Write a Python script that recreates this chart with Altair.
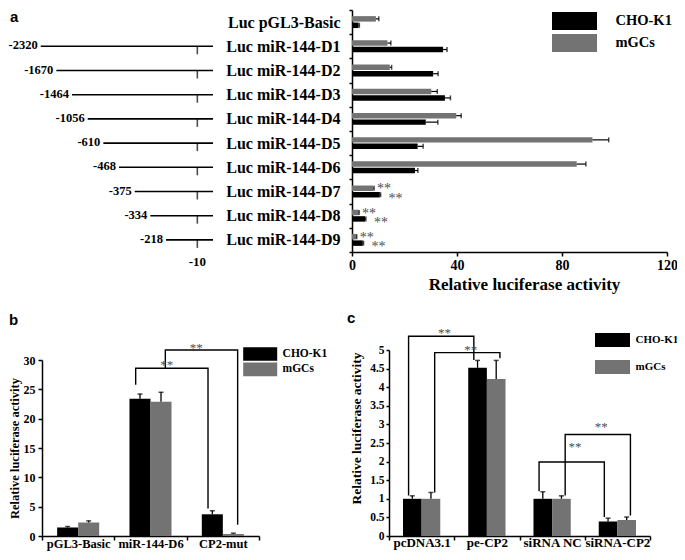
import altair as alt
import pandas as pd

SERIF = "Liberation Serif"
SANS = "Liberation Sans"
SERIES = ["CHO-K1", "mGCs"]
SERIES_COLORS = ["#000000", "#737373"]
STAR_COLOR = "#4d4d4d"
RECT = "M-2.5,-1H2.5V1H-2.5Z"

# ---------------- panel a : deletion constructs ----------------
a_constructs = ["pGL3-Basic", "miR-144-D1", "miR-144-D2", "miR-144-D3", "miR-144-D4",
                "miR-144-D5", "miR-144-D6", "miR-144-D7", "miR-144-D8", "miR-144-D9"]
a_cho = [2.5, 34.7, 30.9, 35.4, 28.1, 25.0, 24.0, 10.6, 5.0, 4.1]
a_cho_err = [0.3, 1.5, 1.9, 2.1, 4.6, 2.1, 1.1, 0.3, 0.3, 0.3]
a_mgc = [9.1, 13.5, 14.4, 30.2, 39.7, 91.6, 85.6, 8.1, 2.5, 1.6]
a_mgc_err = [1.1, 1.3, 0.7, 2.3, 1.9, 6.2, 3.5, 0.3, 0.2, 0.2]
a_sig = ["", "", "", "", "", "", "", "**", "**", "**"]

# promoter fragment schematic (ordinal, not to scale)
diag_constructs = a_constructs[1:]
diag_starts = ["-2320", "-1670", "-1464", "-1056", "-610", "-468", "-375", "-334", "-218"]
diag_axis = diag_starts + ["", "-10", "Luc"]
diag_site = "-10"
diag_end = "Luc"

# ---------------- panel b : CP2 site mutation ----------------
b_groups = ["pGL3-Basic", "miR-144-D6", "CP2-mut"]
b_cho = [1.45, 23.4, 3.7]
b_cho_err = [0.17, 0.8, 0.6]
b_mgc = [2.3, 22.9, 0.34]
b_mgc_err = [0.28, 1.6, 0.15]
b_br_id = [1, 1, 1, 1, 2, 2, 2, 2]
b_br_step = [0, 1, 2, 3, 0, 1, 2, 3]
b_br_group = ["miR-144-D6", "miR-144-D6", "CP2-mut", "CP2-mut"] * 2
b_br_series = ["CHO-K1"] * 4 + ["mGCs"] * 4
b_br_value = [25.8, 28.6, 28.6, 4.7, 28.6, 31.7, 31.7, 1.9]
b_star_group = ["miR-144-D6", "miR-144-D6"]
b_star_series = ["CHO-K1", "mGCs"]
b_star_value = [29.7, 32.5]

# ---------------- panel c : CP2 over-expression / knock-down ----------------
c_groups = ["pcDNA3.1", "pe-CP2", "siRNA NC", "siRNA-CP2"]
c_cho = [1.0, 4.52, 1.0, 0.39]
c_cho_err = [0.08, 0.2, 0.19, 0.09]
c_mgc = [1.0, 4.22, 1.0, 0.43]
c_mgc_err = [0.17, 0.5, 0.08, 0.08]
c_br_id = [1] * 4 + [2] * 4 + [3] * 4 + [4] * 4
c_br_step = [0, 1, 2, 3] * 4
c_br_group = (["pcDNA3.1", "pcDNA3.1", "pe-CP2", "pe-CP2"] * 2
              + ["siRNA NC", "siRNA NC", "siRNA-CP2", "siRNA-CP2"] * 2)
c_br_series = ["CHO-K1"] * 4 + ["mGCs"] * 4 + ["CHO-K1"] * 4 + ["mGCs"] * 4
c_br_value = [1.09, 5.37, 5.37, 4.73,
              1.17, 4.93, 4.93, 4.78,
              1.2, 1.99, 1.99, 0.51,
              1.09, 2.73, 2.73, 0.55]
c_star_group = ["pcDNA3.1", "pcDNA3.1", "siRNA NC", "siRNA NC"]
c_star_series = ["CHO-K1", "mGCs", "CHO-K1", "mGCs"]
c_star_value = [5.53, 5.09, 2.46, 3.0]


def bar_table(groups, cho, cho_err, mgc, mgc_err, sig=None):
    rows = []
    for i, g in enumerate(groups):
        for s, v, e in (("CHO-K1", cho[i], cho_err[i]), ("mGCs", mgc[i], mgc_err[i])):
            rows.append({"group": g, "series": s, "value": v, "err": e, "end": v + e,
                         "sig": (sig[i] if sig else "")})
    return pd.DataFrame(rows)


a_df = bar_table(a_constructs, a_cho, a_cho_err, a_mgc, a_mgc_err, a_sig)
b_df = bar_table(b_groups, b_cho, b_cho_err, b_mgc, b_mgc_err)
c_df = bar_table(c_groups, c_cho, c_cho_err, c_mgc, c_mgc_err)
diag_df = pd.DataFrame({"group": diag_constructs, "start": diag_starts,
                        "end": [diag_end] * len(diag_starts), "site": [diag_site] * len(diag_starts)})
site_df = pd.DataFrame({"group": [a_constructs[-1]], "site": [diag_site]})
b_br = pd.DataFrame({"bracket": b_br_id, "step": b_br_step, "group": b_br_group,
                     "series": b_br_series, "value": b_br_value})
c_br = pd.DataFrame({"bracket": c_br_id, "step": c_br_step, "group": c_br_group,
                     "series": c_br_series, "value": c_br_value})
b_st = pd.DataFrame({"group": b_star_group, "series": b_star_series, "value": b_star_value,
                     "label": ["**"] * len(b_star_group)})
c_st = pd.DataFrame({"group": c_star_group, "series": c_star_series, "value": c_star_value,
                     "label": ["**"] * len(c_star_group)})

AX = dict(domainColor="black", domainWidth=1.5, tickColor="black", tickWidth=1.5,
          labelColor="black", labelFont=SERIF, labelFontWeight="bold", grid=False,
          titleFont=SERIF, titleFontWeight="bold", titleColor="black")


def color_enc(legend):
    return alt.Color("series:N", scale=alt.Scale(domain=SERIES, range=SERIES_COLORS), legend=legend)


def legend(x, y, w, h, fs, step, label_shift=0.0):
    # rectangle symbol w x h (path is 5:2), entries spaced `step` px apart
    return alt.Legend(title=None, orient="none", legendX=x, legendY=y, symbolType=RECT,
                      symbolSize=h * h, symbolOffset=(w - h) / 2, symbolStrokeWidth=0, symbolOpacity=1,
                      labelFont=SERIF, labelFontSize=fs, labelFontWeight="bold",
                      labelColor="black", labelOffset=w - h + 5 + label_shift, rowPadding=step - h,
                      padding=0)


# ---- panel a scales ----
def a_x(field, axis=None):
    return alt.X(f"{field}:Q", scale=alt.Scale(domain=[0, 120], range=[344, 659], nice=False, zero=False),
                 axis=axis)


def a_y(axis=None):
    return alt.Y("group:N", scale=alt.Scale(domain=a_constructs, range=[2, 244], paddingInner=0,
                                            paddingOuter=0), axis=axis)


def a_yoff():
    return alt.YOffset("series:N", scale=alt.Scale(domain=["mGCs", "CHO-K1"], paddingInner=0.15,
                                                   paddingOuter=0.95))


def d_x(field):
    return alt.X(f"{field}:N", scale=alt.Scale(type="point", domain=diag_axis, range=[32.7, 205],
                                               padding=0), axis=None)


a_x_axis = alt.Axis(orient="bottom", offset=-284, values=[0, 40, 80, 120], tickSize=4, labelFontSize=14,
                    labelPadding=2, labelFlush=False, title="Relative luciferase activity",
                    titleFontSize=17, titlePadding=4, titleX=516, **AX)
a_y_axis = alt.Axis(orient="left", offset=-344, title=None, tickBand="extent", tickSize=3,
                    labelFontSize=16, labelPadding=9,
                    labelExpr="datum.label ? 'Luc ' + datum.label : ''", **AX)

txt = dict(font=SERIF, fontWeight="bold", color="black")

panel_a = [
    alt.Chart(diag_df).mark_rule(color="black", strokeWidth=1.6).encode(
        x=d_x("start"), x2="end:N", y=a_y()),
    alt.Chart(diag_df).mark_tick(color="black", orient="vertical", size=8, thickness=1.6, yOffset=4).encode(
        x=d_x("site"), y=a_y()),
    alt.Chart(diag_df).mark_text(align="right", baseline="middle", dx=-3, dy=-1, fontSize=12.5, **txt).encode(
        x=d_x("start"), y=a_y(), text="start:N"),
    alt.Chart(site_df).mark_text(align="center", baseline="middle", dy=22, fontSize=13, **txt).encode(
        x=d_x("site"), y=a_y(), text="site:N"),
    alt.Chart(a_df).mark_bar().encode(
        x=a_x("value", a_x_axis), y=a_y(a_y_axis), yOffset=a_yoff(),
        color=color_enc(legend(544, 4, 45, 18, 14.5, 22))),
    alt.Chart(a_df).mark_rule(color="black", strokeWidth=1.2).encode(
        x=a_x("value"), x2="end:Q", y=a_y(), yOffset=a_yoff()),
    alt.Chart(a_df).mark_tick(color="black", orient="vertical", size=5, thickness=1.5).encode(
        x=a_x("end"), y=a_y(), yOffset=a_yoff()),
    alt.Chart(a_df).transform_filter("datum.sig != '' && datum.series == 'mGCs'").mark_text(
        align="left", baseline="middle", dx=3, dy=2, font=SERIF, fontSize=14, color=STAR_COLOR).encode(
        x=a_x("end"), y=a_y(), yOffset=a_yoff(), text="sig:N"),
    alt.Chart(a_df).transform_filter("datum.sig != '' && datum.series == 'CHO-K1'").mark_text(
        align="left", baseline="middle", dx=8, dy=3, font=SERIF, fontSize=14, color=STAR_COLOR).encode(
        x=a_x("end"), y=a_y(), yOffset=a_yoff(), text="sig:N"),
]


# ---- panels b and c ----
def grouped_panel(df, br, st, groups, xrange, off_pad, ydomain, yrange, x_axis, y_axis, leg, star_dx):
    def gx(axis=None):
        return alt.X("group:N", scale=alt.Scale(domain=groups, range=xrange, paddingInner=0, paddingOuter=0),
                     axis=axis)

    def gxo():
        return alt.XOffset("series:N", scale=alt.Scale(domain=SERIES, paddingInner=0, paddingOuter=off_pad))

    def gy(field, axis=None):
        return alt.Y(f"{field}:Q", scale=alt.Scale(domain=ydomain, range=yrange, nice=False, zero=False),
                     axis=axis)

    return [
        alt.Chart(df).mark_bar().encode(x=gx(x_axis), xOffset=gxo(), y=gy("value", y_axis),
                                        color=color_enc(leg)),
        alt.Chart(df).mark_rule(color="black", strokeWidth=1.3).encode(
            x=gx(), xOffset=gxo(), y=gy("value"), y2="end:Q"),
        alt.Chart(df).mark_tick(color="black", orient="horizontal", size=5, thickness=1.5).encode(
            x=gx(), xOffset=gxo(), y=gy("end")),
        alt.Chart(br).mark_line(color="black", strokeWidth=1.4).encode(
            x=gx(), xOffset=gxo(), y=gy("value"), detail="bracket:N", order="step:Q"),
        alt.Chart(st).mark_text(align="center", baseline="middle", dx=star_dx, dy=3, font=SERIF,
                                fontSize=13, color=STAR_COLOR).encode(
            x=gx(), xOffset=gxo(), y=gy("value"), text="label:N"),
    ]


b_x_axis = alt.Axis(orient="bottom", title=None, tickBand="extent", tickSize=4, labelAngle=0,
                    labelFontSize=12.5, labelPadding=-3, **AX)
b_y_axis = alt.Axis(orient="left", offset=-34, values=[0, 5, 10, 15, 20, 25, 30], tickSize=4,
                    labelFontSize=12, labelPadding=3, title="Relative luciferase activity",
                    titleFontSize=12.5, titlePadding=2, **AX)
c_x_axis = alt.Axis(orient="bottom", title=None, tickBand="extent", tickSize=4, labelAngle=0,
                    labelFontSize=13, labelPadding=-4, **AX)
c_y_axis = alt.Axis(orient="left", offset=-381, values=[i * 0.5 for i in range(11)], format="~g",
                    tickSize=3, labelFontSize=11.5, labelPadding=2, title="Relative luciferase activity",
                    titleFontSize=13.5, titlePadding=6, titleY=420, **AX)

panel_b = grouped_panel(b_df, b_br, b_st, b_groups, [34, 251], 0.72, [0, 30], [528, 352],
                        b_x_axis, b_y_axis, legend(235, 339, 34, 13.6, 11.5, 15, -10), 31)
panel_c = grouped_panel(c_df, c_br, c_st, c_groups, [381, 642], 0.75, [0, 5], [528, 342],
                        c_x_axis, c_y_axis, legend(587, 325, 35, 14, 11, 27, -10), 36)

letter = dict(font=SANS, fontWeight="bold", fontSize=15, color="black", align="left")
letters = [
    alt.Chart(alt.Data(values=[{"t": "a"}])).mark_text(baseline="top", **letter).encode(
        x=alt.value(2), y=alt.value(2), text="t:N"),
    alt.Chart(alt.Data(values=[{"t": "b"}])).mark_text(baseline="alphabetic", **letter).encode(
        x=alt.value(1), y=alt.value(317), text="t:N"),
    alt.Chart(alt.Data(values=[{"t": "c"}])).mark_text(baseline="alphabetic", **letter).encode(
        x=alt.value(339), y=alt.value(315), text="t:N"),
]

chart = alt.layer(*(panel_a + panel_b + panel_c + letters)).resolve_scale(
    x="independent", y="independent", xOffset="independent", yOffset="independent", color="independent"
).resolve_axis(x="independent", y="independent").resolve_legend(color="independent").properties(
    width=669, height=528, autosize=alt.AutoSizeParams(type="none"),
    padding={"left": 0, "top": 0, "right": 0, "bottom": 16}
).configure_view(stroke=None)

chart.save("out.html", embed_options={"renderer": "svg", "actions": False})
